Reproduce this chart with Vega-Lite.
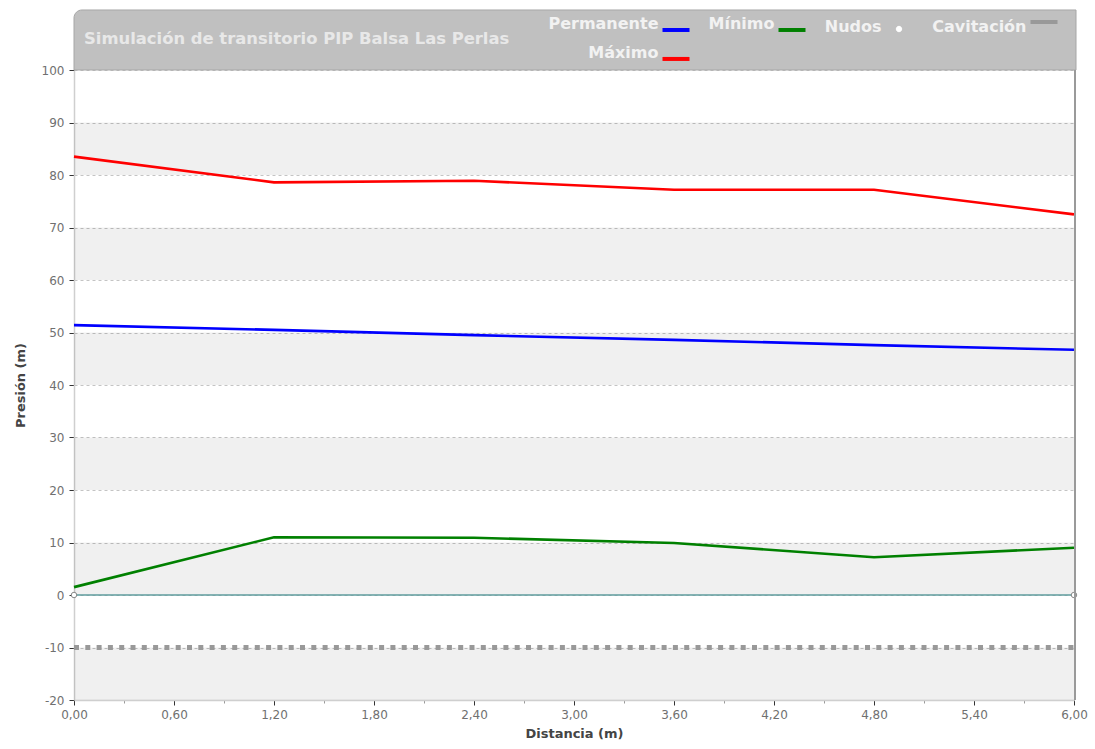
{
  "$schema": "https://vega.github.io/schema/vega-lite/v6.json",
  "width": 1000,
  "height": 630,
  "autosize": {"type": "none"},
  "padding": {"left": 74, "top": 70, "right": 21, "bottom": 49},
  "background": "white",
  "config": {"view": {"stroke": null}, "font": "DejaVu Sans"},
  "datasets": {
    "bands": [
      {"lo": -20, "hi": -10},
      {"lo": 0, "hi": 10},
      {"lo": 20, "hi": 30},
      {"lo": 40, "hi": 50},
      {"lo": 60, "hi": 70},
      {"lo": 80, "hi": 90}
    ],
    "series": [
      {"serie": "Permanente", "dist": 0, "presion": 51.4},
      {"serie": "Permanente", "dist": 1.2, "presion": 50.5},
      {"serie": "Permanente", "dist": 2.4, "presion": 49.5},
      {"serie": "Permanente", "dist": 3.6, "presion": 48.6},
      {"serie": "Permanente", "dist": 4.8, "presion": 47.6},
      {"serie": "Permanente", "dist": 6, "presion": 46.7},
      {"serie": "Máximo", "dist": 0, "presion": 83.5},
      {"serie": "Máximo", "dist": 1.2, "presion": 78.6},
      {"serie": "Máximo", "dist": 2.4, "presion": 78.9},
      {"serie": "Máximo", "dist": 3.6, "presion": 77.2},
      {"serie": "Máximo", "dist": 4.8, "presion": 77.2},
      {"serie": "Máximo", "dist": 6, "presion": 72.5},
      {"serie": "Mínimo", "dist": 0, "presion": 1.5},
      {"serie": "Mínimo", "dist": 1.2, "presion": 11.0},
      {"serie": "Mínimo", "dist": 2.4, "presion": 10.9},
      {"serie": "Mínimo", "dist": 3.6, "presion": 9.9},
      {"serie": "Mínimo", "dist": 4.8, "presion": 7.2},
      {"serie": "Mínimo", "dist": 6, "presion": 9.0}
    ],
    "cav": [
      {"serie": "Cavitación", "dist": 0, "presion": -10},
      {"serie": "Cavitación", "dist": 6, "presion": -10}
    ],
    "nodes": [
      {"serie": "Nudos", "dist": 0, "presion": 0},
      {"serie": "Nudos", "dist": 6, "presion": 0}
    ],
    "header": [{"titulo": "Simulación de transitorio PIP Balsa Las Perlas"}]
  },
  "layer": [
    {
      "data": {"name": "bands"},
      "mark": {"type": "rect", "fill": "#000000", "fillOpacity": 0.06},
      "encoding": {
        "x": {
          "datum": 0,
          "type": "quantitative",
          "scale": {"domain": [0, 6], "nice": false, "zero": false},
          "axis": {
            "title": "Distancia (m)",
            "titleFont": "DejaVu Sans",
            "titleFontSize": 13,
            "titleFontWeight": "bold",
            "titleColor": "#444444",
            "titlePadding": 7,
            "values": [0, 0.3, 0.6, 0.9, 1.2, 1.5, 1.8, 2.1, 2.4, 2.7, 3, 3.3, 3.6, 3.9, 4.2, 4.5, 4.8, 5.1, 5.4, 5.7, 6],
            "labelExpr": "round(datum.value * 10) % 6 === 0 ? replace(format(datum.value, '.2f'), '.', ',') : ''",
            "labelFont": "DejaVu Sans",
            "labelFontSize": 12,
            "labelColor": "#707070",
            "labelPadding": 4,
            "labelFlush": false,
            "labelOverlap": false,
            "tickSize": {"condition": {"test": "round(datum.value * 10) % 6 !== 0", "value": 3}, "value": 5},
            "tickColor": {"condition": {"test": "round(datum.value * 10) % 6 !== 0", "value": "#999999"}, "value": "#333333"},
            "gridOpacity": {"condition": {"test": "round(datum.value * 10) % 6 !== 0", "value": 0}, "value": 1},
            "gridColor": "#c4c4c4",
            "gridDash": [3, 3],
            "domainColor": "#cfcfcf",
            "domainWidth": 1.5
          }
        },
        "x2": {"datum": 6},
        "y": {
          "field": "lo",
          "type": "quantitative",
          "scale": {"domain": [-20, 100], "nice": false, "zero": false},
          "axis": {
            "title": "Presión (m)",
            "titleFont": "DejaVu Sans",
            "titleFontSize": 13,
            "titleFontWeight": "bold",
            "titleColor": "#444444",
            "titlePadding": 14,
            "values": [-20, -15, -10, -5, 0, 5, 10, 15, 20, 25, 30, 35, 40, 45, 50, 55, 60, 65, 70, 75, 80, 85, 90, 95, 100],
            "labelExpr": "datum.value % 10 === 0 ? ('' + datum.value) : ''",
            "labelFont": "DejaVu Sans",
            "labelFontSize": 12,
            "labelColor": "#707070",
            "labelPadding": 5,
            "labelOverlap": false,
            "tickSize": {"condition": {"test": "datum.value % 10 !== 0", "value": 3}, "value": 5},
            "tickColor": {"condition": {"test": "datum.value % 10 !== 0", "value": "#999999"}, "value": "#333333"},
            "gridOpacity": {"condition": {"test": "datum.value % 10 !== 0", "value": 0}, "value": 1},
            "gridColor": "#c4c4c4",
            "gridDash": [3, 3],
            "domainColor": "#cfcfcf",
            "domainWidth": 1.5
          }
        },
        "y2": {"field": "hi"}
      }
    },
    {
      "data": {"name": "header"},
      "mark": {"type": "rect", "fill": "#c0c0c0", "stroke": "#a6a6a6", "strokeWidth": 1, "cornerRadiusTopLeft": 8, "x2Offset": 2},
      "encoding": {
        "x": {"datum": 0, "type": "quantitative"},
        "x2": {"datum": 6},
        "y": {"datum": 100, "type": "quantitative"},
        "y2": {"datum": 111.43}
      }
    },
    {
      "data": {"name": "header"},
      "mark": {"type": "text", "align": "left", "baseline": "middle", "dx": 10, "font": "DejaVu Sans", "fontSize": 16.4, "fontWeight": "bold", "fill": "#e8e8e8"},
      "encoding": {
        "x": {"datum": 0, "type": "quantitative"},
        "y": {"datum": 106, "type": "quantitative"},
        "text": {"field": "titulo"}
      }
    },
    {
      "data": {"name": "header"},
      "mark": {"type": "rule", "stroke": "#5f9c9e", "strokeWidth": 1.3},
      "encoding": {
        "y": {"datum": 0, "type": "quantitative"}
      }
    },
    {
      "data": {"name": "cav"},
      "mark": {"type": "line", "strokeWidth": 5, "strokeDash": [5, 6.3]},
      "encoding": {
        "x": {"field": "dist", "type": "quantitative"},
        "y": {"field": "presion", "type": "quantitative"},
        "color": {"field": "serie", "type": "nominal"}
      }
    },
    {
      "data": {"name": "series"},
      "mark": {"type": "line", "strokeWidth": 2.6},
      "encoding": {
        "x": {"field": "dist", "type": "quantitative"},
        "y": {"field": "presion", "type": "quantitative"},
        "color": {
          "field": "serie",
          "type": "nominal",
          "scale": {
            "domain": ["Permanente", "Mínimo", "Nudos", "Cavitación", "Máximo"],
            "range": ["#0000ff", "#008000", "#ffffff", "#999999", "#ff0000"]
          },
          "legend": {
            "orient": "none",
            "legendX": 594,
            "legendY": -54,
            "title": null,
            "direction": "horizontal",
            "columns": 4,
            "columnPadding": 10,
            "rowPadding": 7,
            "padding": 0,
            "labelFont": "DejaVu Sans",
            "labelFontSize": 16,
            "labelFontWeight": "bold",
            "labelColor": "#f2f2f2",
            "labelAlign": "right",
            "labelBaseline": "middle",
            "labelOffset": -25.5,
            "labelLimit": 0,
            "symbolType": "stroke",
            "symbolSize": 729,
            "symbolStrokeWidth": 4,
            "encode": {
              "symbols": {
                "update": {
                  "shape": {"signal": "datum.value === 'Nudos' ? 'M0.2,0.15A0.2,0.2,0,1,1,-0.2,0.15A0.2,0.2,0,1,1,0.2,0.15ZM1.5,0.15' : (datum.value === 'Cavitación' ? 'M-1,-0.37L1,-0.37' : 'M-1,0.44L1,0.44')"},
                  "size": {"value": 729},
                  "fill": {"signal": "datum.value === 'Nudos' ? '#ffffff' : 'transparent'"},
                  "stroke": {"signal": "datum.value === 'Nudos' ? '#8a8a8a' : scale('color', datum.value)"},
                  "strokeWidth": {"signal": "datum.value === 'Nudos' ? 1 : 4"},
                  "opacity": {"value": 1}
                }
              }
            }
          }
        }
      }
    },
    {
      "data": {"name": "nodes"},
      "mark": {"type": "point", "filled": true, "stroke": "#8a8a8a", "strokeWidth": 1, "size": 30, "opacity": 1},
      "encoding": {
        "x": {"field": "dist", "type": "quantitative"},
        "y": {"field": "presion", "type": "quantitative"},
        "color": {"field": "serie", "type": "nominal"}
      }
    },
    {
      "data": {"name": "header"},
      "mark": {"type": "rule", "stroke": "#9a9a9a", "strokeWidth": 2, "xOffset": 1},
      "encoding": {
        "x": {"datum": 6, "type": "quantitative"}
      }
    }
  ]
}
